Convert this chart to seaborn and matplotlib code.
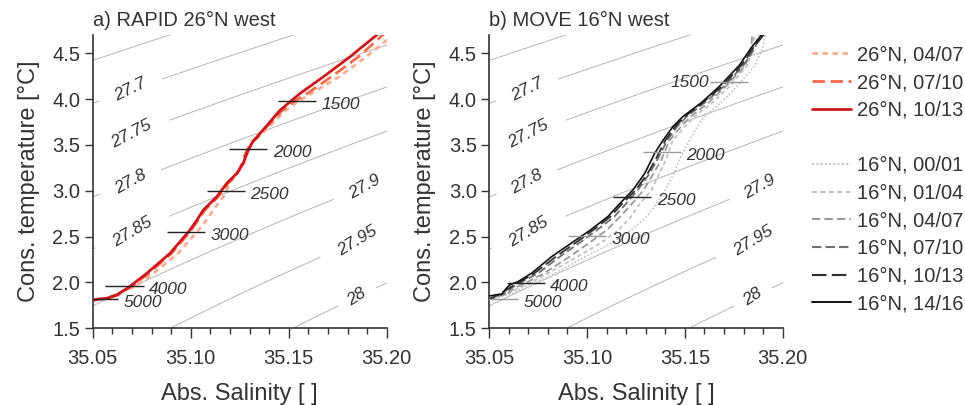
import numpy as np
import pandas as pd
import matplotlib
matplotlib.use("Agg")
import matplotlib.pyplot as plt
import seaborn as sns
from matplotlib.lines import Line2D

# ---------------- data ----------------
# panel a) RAPID 26N west : Conservative temperature grid and Absolute salinity per period
a_T = [1.80, 1.816, 1.827, 1.863, 1.954, 2.10, 2.318, 2.572, 2.68, 2.79, 2.936, 3.082,
       3.19, 3.30, 3.41, 3.518, 3.627, 3.88, 3.972, 4.063, 4.245, 4.463, 4.72]
a_S_0407 = [35.049, 35.053, 35.0565, 35.0610, 35.0712, 35.0810, 35.0935, 35.1040, 35.1080,
            35.1115, 35.1166, 35.1200, 35.1235, 35.1270, 35.1290, 35.1311, 35.1365, 35.1485,
            35.1545, 35.1615, 35.1758, 35.1895, 35.2045]
a_S_0710 = [35.049, 35.0525, 35.0575, 35.0628, 35.0695, 35.0785, 35.0902, 35.1003, 35.1038,
            35.1072, 35.1140, 35.1190, 35.1238, 35.1262, 35.1280, 35.1305, 35.1355, 35.1468,
            35.1525, 35.1595, 35.1718, 35.1856, 35.1990]
a_S_1013 = [35.049, 35.052, 35.0571, 35.0622, 35.0688, 35.0776, 35.0894, 35.0996, 35.1031,
            35.1064, 35.1133, 35.1184, 35.1235, 35.1268, 35.1286, 35.1311, 35.1354, 35.1456,
            35.1507, 35.1558, 35.1677, 35.1813, 35.1960]

# panel b) MOVE 16N west
b_T = [1.81, 1.88, 1.95, 2.01, 2.10, 2.28, 2.43, 2.57, 2.72, 2.86, 3.01, 3.19, 3.34, 3.55,
       3.70, 3.81, 3.96, 4.14, 4.37, 4.56, 4.72]
b_S_0001 = [35.049, 35.062, 35.068, 35.074, 35.0835, 35.099, 35.1125, 35.1225, 35.1305, 35.1355,
            35.1400, 35.1445, 35.1472, 35.1523, 35.1565, 35.160, 35.1684, 35.1767, 35.1859,
            35.1900, 35.1915]
b_S_0104 = [35.049, 35.060, 35.066, 35.072, 35.080, 35.095, 35.107, 35.116, 35.1225, 35.127,
            35.133, 35.137, 35.1404, 35.1439, 35.150, 35.155, 35.164, 35.173, 35.182, 35.185,
            35.1855]
b_S_0407 = [35.049, 35.059, 35.064, 35.070, 35.078, 35.091, 35.101, 35.110, 35.117, 35.123,
            35.129, 35.134, 35.138, 35.1422, 35.148, 35.153, 35.162, 35.171, 35.181, 35.184,
            35.1845]
b_S_0710 = [35.049, 35.058, 35.062, 35.067, 35.075, 35.086, 35.096, 35.105, 35.114, 35.120,
            35.126, 35.132, 35.136, 35.141, 35.146, 35.151, 35.160, 35.170, 35.180, 35.186,
            35.188]
b_S_1013 = [35.049, 35.056, 35.061, 35.066, 35.073, 35.084, 35.094, 35.103, 35.112, 35.118,
            35.125, 35.131, 35.135, 35.140, 35.145, 35.150, 35.159, 35.169, 35.179, 35.185,
            35.191]
b_T_1416 = [1.845, 1.86, 1.875, 1.93, 1.975, 2.01, 2.10, 2.28, 2.43, 2.57, 2.72, 2.86, 3.01,
            3.19, 3.41, 3.55, 3.70, 3.81, 3.96, 4.14, 4.37, 4.56, 4.72]
b_S_1416 = [35.048, 35.052, 35.0565, 35.0585, 35.0605, 35.0648, 35.0716, 35.0818, 35.0920,
            35.1016, 35.1107, 35.1167, 35.1235, 35.1295, 35.1346, 35.1388, 35.1439, 35.1490,
            35.1584, 35.1677, 35.1779, 35.1839, 35.1900]

# depth markers (dbar)
depth_labels = ["1500", "2000", "2500", "3000", "4000", "5000"]
a_depth_S = [35.1541, 35.1294, 35.1178, 35.0975, 35.0662, 35.0533]
a_depth_T = [3.983, 3.456, 3.001, 2.554, 1.965, 1.816]
b_depth_S = [35.1728, 35.1384, 35.1231, 35.1001, 35.0686, 35.0551]
b_depth_T = [4.184, 3.420, 2.936, 2.510, 1.991, 1.816]

# density contours (sigma0)
sigma_unlabelled = [27.6, 27.65, 28.05]
sigma_labelled = [27.7, 27.75, 27.8, 27.85, 27.9, 27.95, 28.0]
sigma_label_S = [35.0699, 35.0707, 35.0699, 35.0707, 35.189, 35.1855, 35.1847]
sigma_label_T = [4.081, 3.590, 3.082, 2.536, 3.027, 2.434, 1.845]

periods_a = ["26°N, 04/07", "26°N, 07/10", "26°N, 10/13"]
periods_b = ["16°N, 00/01", "16°N, 01/04", "16°N, 04/07", "16°N, 07/10", "16°N, 10/13",
             "16°N, 14/16"]
titles = ["a) RAPID 26°N west", "b) MOVE 16°N west"]

# ---------------- styles ----------------
TXT = "#333333"
style_a = [dict(color="#fcae91", lw=2.0, ls=(0, (2.0, 1.6))),
           dict(color="#fb6a4a", lw=2.0, ls=(0, (4.5, 2.0))),
           dict(color="#cb181d", lw=2.0, ls="-")]
style_b = [dict(color="#c4c4c4", lw=1.2, ls=(0, (1.0, 1.2))),
           dict(color="#bdbdbd", lw=1.2, ls=(0, (2.5, 1.8))),
           dict(color="#999999", lw=1.3, ls=(0, (4.0, 2.0))),
           dict(color="#6e6e6e", lw=1.3, ls=(0, (4.5, 2.0))),
           dict(color="#2e2e2e", lw=1.3, ls=(0, (7.0, 2.5))),
           dict(color="#111111", lw=1.2, ls="-")]
depth_colors_b = ["#999999", "#999999", "#222222", "#999999", "#222222", "#999999"]


def sigma0(SA, CT):
    SP = SA * 35.0 / 35.16504
    T = CT
    rw = (999.842594 + 6.793952e-2 * T - 9.095290e-3 * T**2 + 1.001685e-4 * T**3
          - 1.120083e-6 * T**4 + 6.536332e-9 * T**5)
    A = (8.24493e-1 - 4.0899e-3 * T + 7.6438e-5 * T**2 - 8.2467e-7 * T**3
         + 5.3875e-9 * T**4)
    B = -5.72466e-3 + 1.0227e-4 * T - 1.6546e-6 * T**2
    C = 4.8314e-4
    return rw + A * SP + B * SP**1.5 + C * SP**2 - 1000.0


sns.set_style("ticks")
plt.rcParams["font.family"] = ["Liberation Sans", "DejaVu Sans"]
plt.rcParams["text.color"] = TXT
plt.rcParams["axes.labelcolor"] = TXT
plt.rcParams["xtick.color"] = TXT
plt.rcParams["ytick.color"] = TXT

fig = plt.figure(figsize=(9.65, 4.05), dpi=100)
ax_a = fig.add_axes([0.0961, 0.1894, 0.3047, 0.7242])
ax_b = fig.add_axes([0.5070, 0.1894, 0.3040, 0.7242])

Sg, Tg = np.meshgrid(np.linspace(35.0, 35.25, 300), np.linspace(1.2, 5.0, 300))
sig = sigma0(Sg, Tg)

fmt = lambda v: f"{round(v, 2):g}"

panels = [
    (ax_a, [(a_T, s) for s in (a_S_0407, a_S_0710, a_S_1013)], style_a,
     a_depth_S, a_depth_T, ["#222222"] * 6),
    (ax_b, [(b_T, s) for s in (b_S_0001, b_S_0104, b_S_0407, b_S_0710, b_S_1013)]
     + [(b_T_1416, b_S_1416)], style_b, b_depth_S, b_depth_T, depth_colors_b),
]

for k, (ax, series, styles, dS, dT, dcol) in enumerate(panels):
    ax.contour(Sg, Tg, sig, levels=sigma_unlabelled, colors="#b5b5b5", linewidths=0.7,
               zorder=1)
    cs = ax.contour(Sg, Tg, sig, levels=sigma_labelled, colors="#b5b5b5", linewidths=0.7,
                    zorder=1)
    lbls = ax.clabel(cs, inline=True, inline_spacing=4,
                     fmt=fmt, fontsize=12.5, colors=TXT,
                     manual=list(zip(sigma_label_S, sigma_label_T)))
    for t in lbls:
        t.set_fontstyle("italic")
    for (T, S), st in zip(series, styles):
        df = pd.DataFrame({"S": S, "T": T})
        sns.lineplot(data=df, x="S", y="T", sort=False, estimator=None, ax=ax,
                     color=st["color"], linewidth=st["lw"], linestyle=st["ls"], zorder=3)
    half = 0.0097
    for i, lab in enumerate(depth_labels):
        ax.plot([dS[i] - half, dS[i] + half], [dT[i], dT[i]], color=dcol[i], lw=1.0,
                zorder=4, solid_capstyle="butt")
        if k == 1 and lab == "1500":
            ax.text(dS[i] - half - 0.0008, dT[i], lab, ha="right", va="center",
                    fontsize=12.5, style="italic", color=TXT, zorder=5)
        else:
            ax.text(dS[i] + half + 0.0028, dT[i] - 0.04, lab, ha="left", va="center",
                    fontsize=12.5, style="italic", color=TXT, zorder=5)

    ax.set_xlim(35.05, 35.20)
    ax.set_ylim(1.5, 4.7)
    ax.set_xticks([35.05, 35.10, 35.15, 35.20])
    ax.set_xticklabels(["35.05", "35.10", "35.15", "35.20"])
    ax.set_xticks(np.arange(35.05, 35.2001, 0.01), minor=True)
    ax.set_yticks([1.5, 2.0, 2.5, 3.0, 3.5, 4.0, 4.5])
    ax.set_yticklabels(["1.5", "2.0", "2.5", "3.0", "3.5", "4.0", "4.5"])
    ax.tick_params(axis="x", which="major", length=7, width=1.0, pad=8, labelsize=14.5)
    ax.tick_params(axis="x", which="minor", length=4.5, width=1.0)
    ax.tick_params(axis="y", which="major", length=6, width=1.0, pad=3, labelsize=14.5)
    ax.yaxis.set_minor_locator(matplotlib.ticker.NullLocator())
    for sp in ["top", "right"]:
        ax.spines[sp].set_visible(False)
    for sp in ["left", "bottom"]:
        ax.spines[sp].set_color(TXT)
        ax.spines[sp].set_linewidth(1.2)
    ax.set_xlabel("Abs. Salinity [ ]", fontsize=17)
    ax.set_ylabel("Cons. temperature [°C]", fontsize=17)
    ax.xaxis.set_label_coords(0.5, -0.185)
    ax.yaxis.set_label_coords(-0.18, 0.5)
    ax.text(0.0, 1.03, titles[k], transform=ax.transAxes, ha="left", va="baseline",
            fontsize=14.5, color=TXT)

handles = []
labels = []
for lab, st in zip(periods_a, style_a):
    handles.append(Line2D([], [], color=st["color"], lw=st["lw"], ls=st["ls"]))
    labels.append(lab)
handles.append(Line2D([], [], color="none"))
labels.append(" ")
for lab, st in zip(periods_b, style_b):
    handles.append(Line2D([], [], color=st["color"], lw=st["lw"] + 0.2, ls=st["ls"]))
    labels.append(lab)

fig.legend(handles, labels, loc="upper left", bbox_to_anchor=(0.841, 0.888),
           frameon=False, fontsize=14.5, handlelength=1.95, handletextpad=0.3,
           labelspacing=0.43, borderaxespad=0.0, borderpad=0.0)

fig.savefig("out.png", dpi=100)
